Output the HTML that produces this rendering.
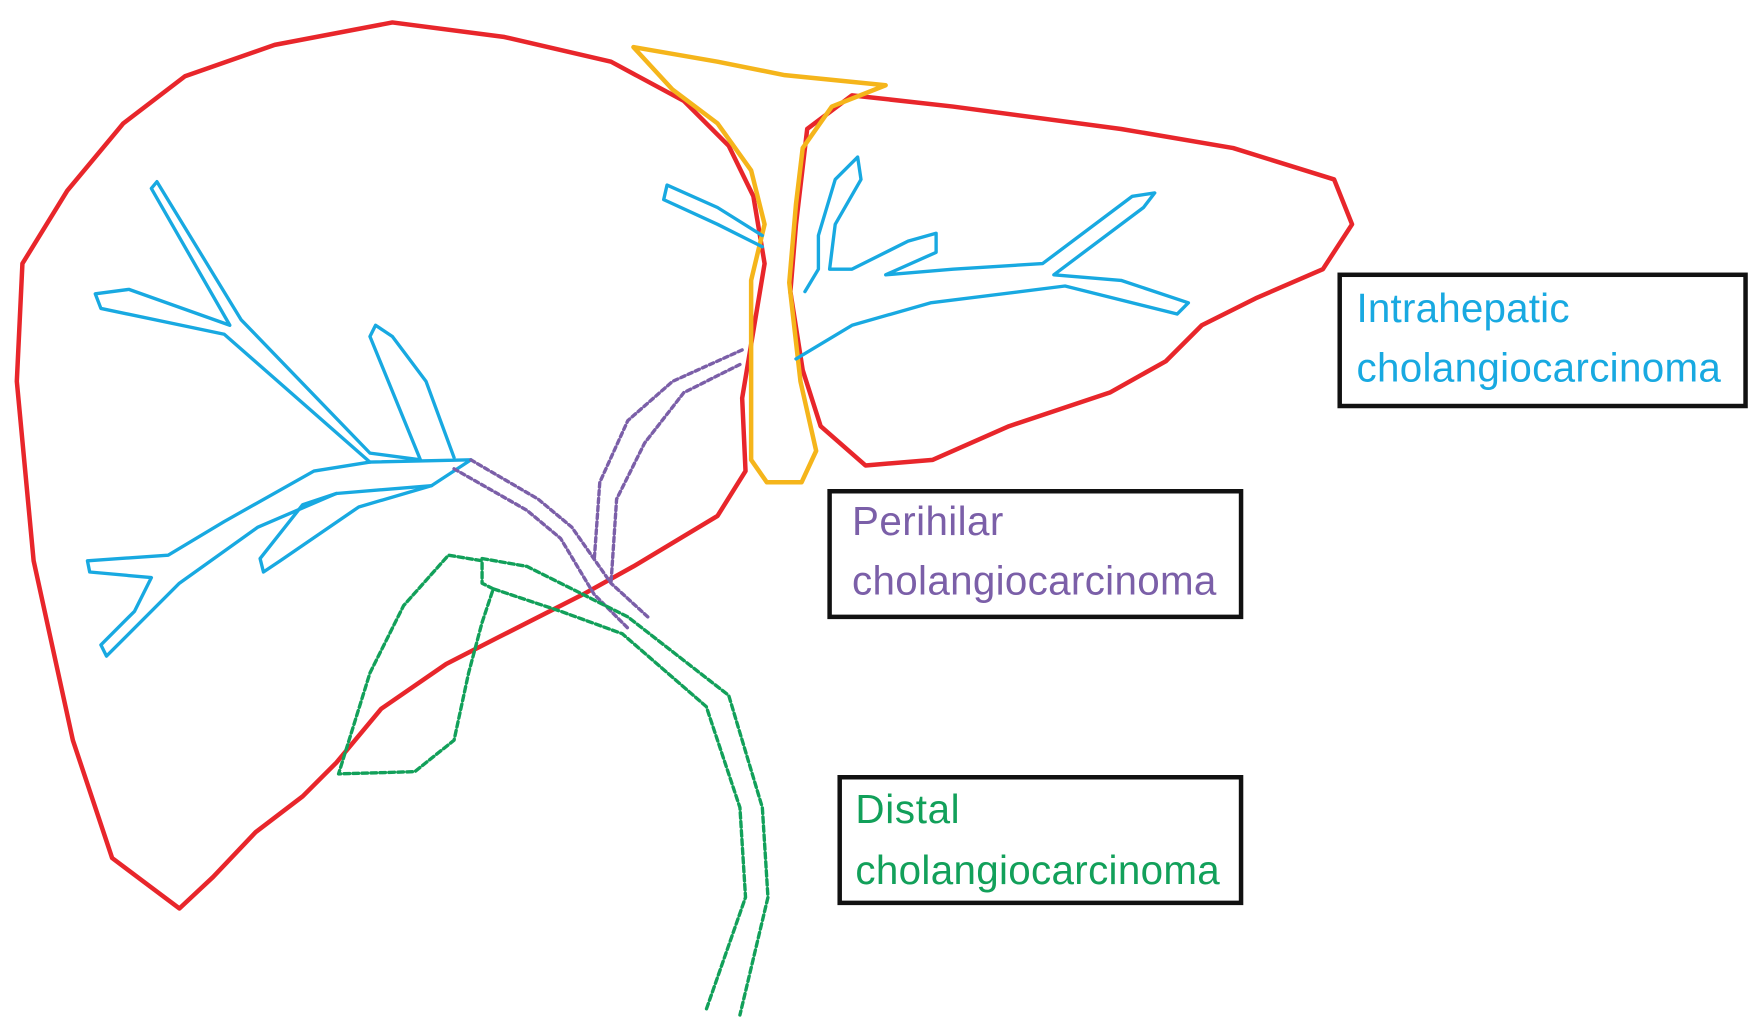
<!DOCTYPE html>
<html><head><style>html,body{margin:0;padding:0;background:#fff}svg{display:block}</style></head>
<body>
<svg width="1759" height="1024" viewBox="0 0 1569 913" preserveAspectRatio="none" xmlns="http://www.w3.org/2000/svg">
<g fill="none" stroke-linejoin="round" stroke-linecap="round">
<path stroke="#e8262b" stroke-width="4" d="M160,810 L100,765 L65,660 L30,500 L15,340 L20,235 L60,170 L110,110 L165,68 L245,40 L350,20 L450,33 L545,55 L610,90 L650,130 L672,175 L682,235 L672,295 L662,355 L665,420 L640,460 L565,505 L520,530 L445,568 L398,592 L340,632 L300,680 L270,710 L228,742 L190,782 Z"/>
<path stroke="#e8262b" stroke-width="4" d="M710,200 L720,115 L760,85 L850,95 L1000,115 L1100,132 L1190,160 L1206,200 L1180,240 L1120,266 L1072,290 L1040,322 L990,350 L900,380 L832,410 L772,415 L732,380 L716,330 L705,260 Z"/>
<path stroke="#f5b51b" stroke-width="4" d="M565,42 L640,55 L700,67 L790,76 L742,95 L716,132 L710,182 L704,252 L714,340 L728,402 L715,430 L684,430 L670,410 L670,350 L670,250 L682,200 L670,152 L640,110 L600,80 Z"/>
<g stroke="#18a9e1" stroke-width="3">
<path d="M420,410 L330,412 L200,298 L90,275 L85,262 L115,258 L205,290 L135,168 L140,162 L215,285 L330,404 L375,410 L330,300 L335,290 L350,300 L380,340 L405,408"/>
<path d="M420,410 L385,433 L300,440 L230,470 L160,520 L120,560 L95,585 L90,575 L120,545 L135,515 L80,510 L78,500 L150,495 L200,465 L280,420 L330,412"/>
<path d="M385,433 L320,452 L250,500 L235,510 L232,498 L270,450 L300,440"/>
<path d="M710,320 L760,290 L830,270 L950,255 L1050,280 L1060,270 L1000,250 L940,245 L1020,185 L1030,172 L1010,175 L930,235 L850,240 L790,245 L835,225 L835,208 L810,215 L760,240 L740,240 L745,200 L768,160 L765,140 L745,160 L730,210 L730,240 L718,260"/>
<path d="M680,210 L640,185 L595,165 L592,178 L640,200 L680,220"/>
</g>
<g stroke="#7b5fa8" stroke-width="3" stroke-dasharray="4,3">
<path d="M420,410 L480,445 L510,470 L545,520 L580,552"/>
<path d="M405,418 L470,455 L500,480 L530,530 L560,560"/>
<path d="M662,312 L600,340 L560,375 L535,430 L530,500"/>
<path d="M660,325 L610,350 L575,395 L550,445 L545,520"/>
</g>
<g stroke="#12a05a" stroke-width="3" stroke-dasharray="5,3">
<path d="M440,525 L430,520 L430,500 L400,495 L360,540 L330,600 L302,690 L370,688 L405,660 L418,600 L430,555 L440,525 L500,545 L555,565 L630,630 L660,720 L665,800 L630,900"/>
<path d="M430,498 L470,505 L560,550 L650,620 L680,720 L685,800 L660,905"/>
</g>
</g>
<g fill="#fff" stroke="#111" stroke-width="4">
<rect x="1195" y="245" width="362" height="117"/>
<rect x="740" y="438" width="367" height="112"/>
<rect x="749" y="693" width="358" height="112"/>
</g>
<g font-family="Liberation Sans, sans-serif" font-size="36">
<text x="1210" y="287" fill="#18a9e1" textLength="190">Intrahepatic</text>
<text x="1210" y="340" fill="#18a9e1" textLength="325">cholangiocarcinoma</text>
<text x="760" y="477" fill="#7b5fa8" textLength="135">Perihilar</text>
<text x="760" y="530" fill="#7b5fa8" textLength="325">cholangiocarcinoma</text>
<text x="763" y="734" fill="#12a05a" textLength="93">Distal</text>
<text x="763" y="788" fill="#12a05a" textLength="325">cholangiocarcinoma</text>
</g>
</svg>
</body></html>
